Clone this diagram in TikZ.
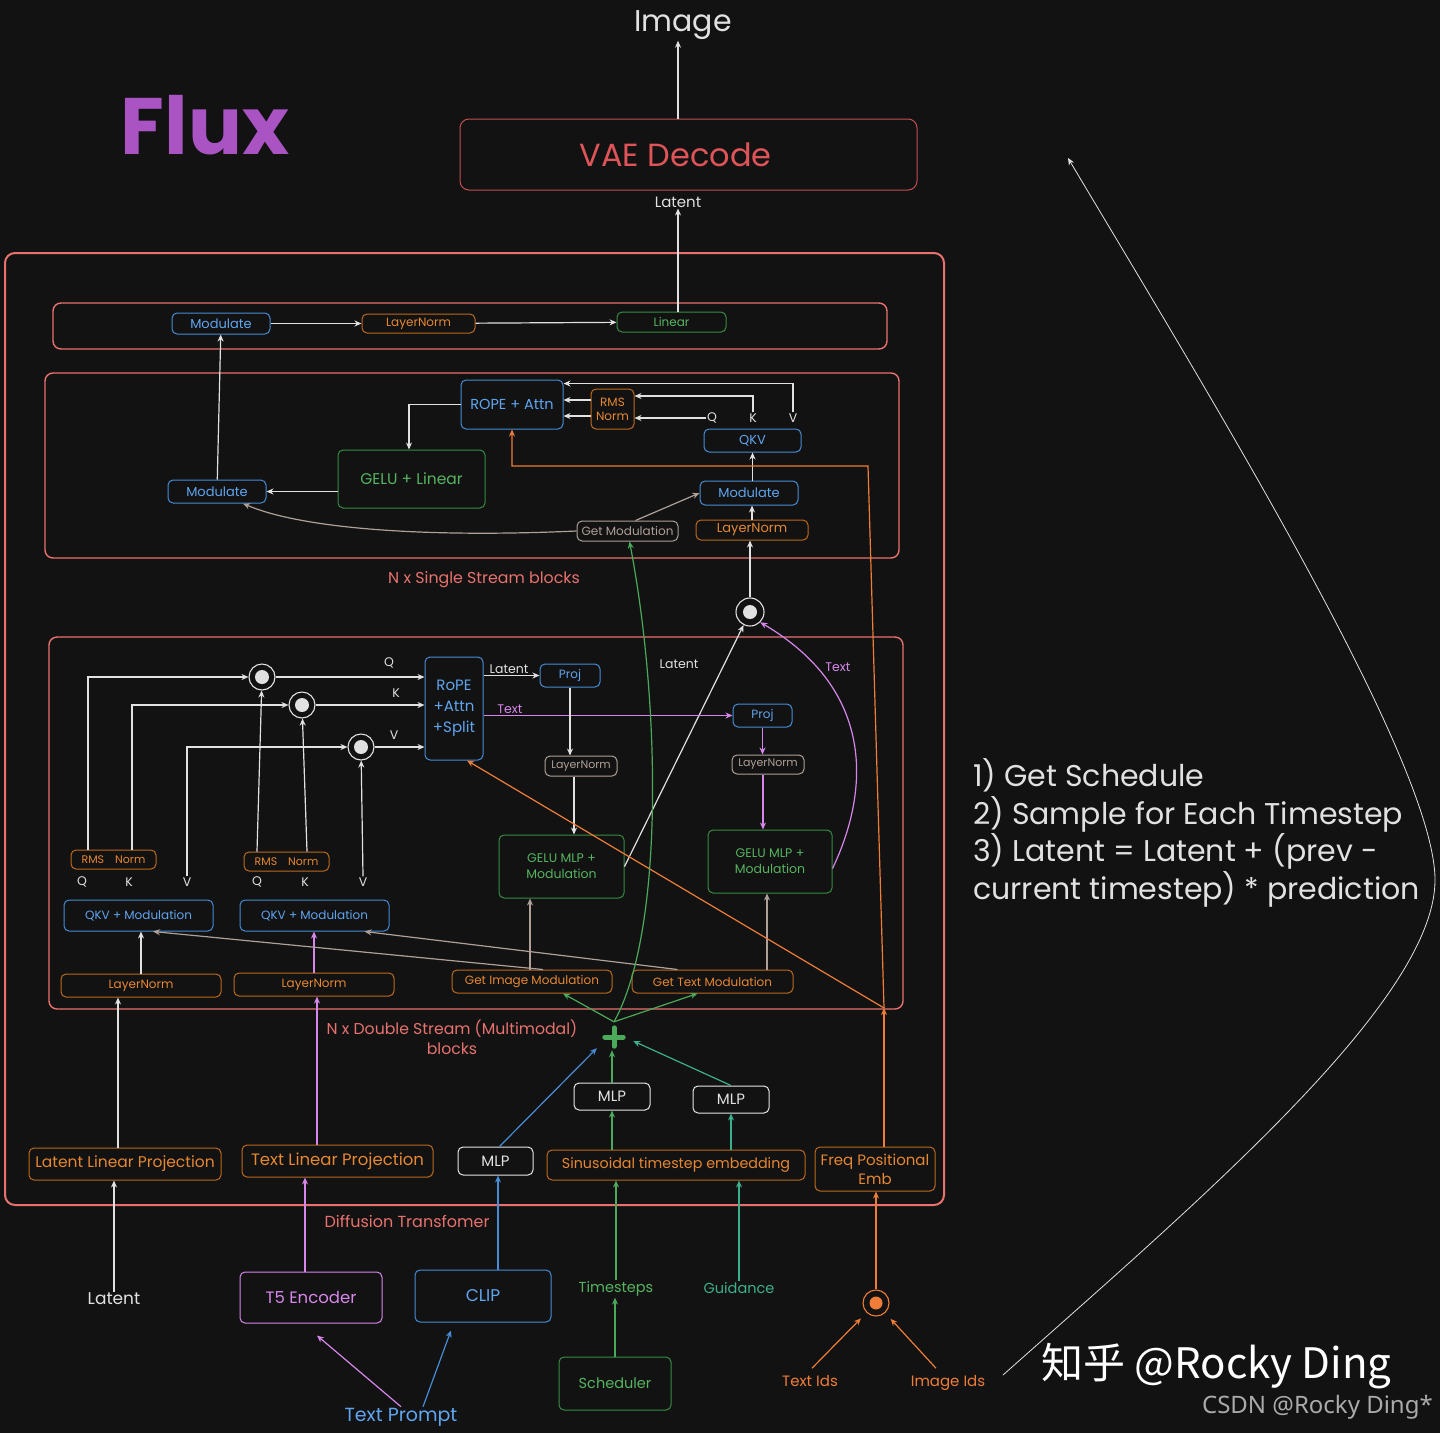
\documentclass[tikz,border=0pt]{standalone}
\usepackage{fontspec}
\setmainfont{Poppins}
\newfontfamily\cjkfont{Noto Sans CJK SC}
\newfontfamily\wmfont{Noto Sans}
\usetikzlibrary{arrows.meta}
\definecolor{bg}{RGB}{18,18,18}
\definecolor{salmon}{RGB}{232,114,110}
\definecolor{vaeedge}{RGB}{196,78,80}
\definecolor{vaetxt}{RGB}{222,84,88}
\definecolor{fluxpurple}{RGB}{170,84,196}
\definecolor{bluedge}{RGB}{70,140,215}
\definecolor{bluetxt}{RGB}{95,165,240}
\definecolor{orgedge}{RGB}{190,105,30}
\definecolor{orgtxt}{RGB}{230,135,50}
\definecolor{grnedge}{RGB}{55,140,65}
\definecolor{grntxt}{RGB}{85,180,95}
\definecolor{grnln}{RGB}{75,170,90}
\definecolor{pinkln}{RGB}{215,135,235}
\definecolor{whtln}{RGB}{225,225,225}
\definecolor{modgray}{RGB}{175,160,152}
\definecolor{tealln}{RGB}{60,175,140}
\definecolor{orgln}{RGB}{240,125,55}
\definecolor{wmgray}{RGB}{170,170,170}
\begin{document}
\begin{tikzpicture}[
    x=1pt, y=-1pt,
    box/.style={draw, rounded corners=5pt, line width=1pt, inner sep=1pt, align=center, font=\fontsize{12}{14}\selectfont},
    sz/.style 2 args={minimum width=#1pt, minimum height=#2pt},
    bbox/.style={box, draw=bluedge, text=bluetxt},
    obox/.style={box, draw=orgedge, text=orgtxt},
    gbox/.style={box, draw=grnedge, text=grntxt},
    pbox/.style={box, draw=pinkln, text=pinkln},
    wbox/.style={box, draw=whtln!85, text=whtln},
    mbox/.style={box, draw=modgray, text=modgray},
    blockframe/.style={draw=salmon, rounded corners=8pt, line width=1.4pt},
    lbl/.style={inner sep=1pt, text=whtln, font=\fontsize{12.5}{14}\selectfont},
    mult/.style={circle, draw=whtln, line width=1.1pt, minimum size=26pt, inner sep=0pt,
        path picture={\fill[whtln] (path picture bounding box.center) circle (7pt);}},
    conn/.style={line width=1.2pt, ->, >={Stealth[length=7pt,width=6pt]}},
    arrow/.style={conn, draw=whtln},
    parrow/.style={conn, draw=pinkln},
    barrow/.style={conn, draw=bluedge},
    garrow/.style={conn, draw=modgray},
    grarrow/.style={conn, draw=grnln},
    tarrow/.style={conn, draw=tealln},
    oarrow/.style={conn, draw=orgln}
]
\useasboundingbox (0,0) rectangle (1440,1433);
\fill [bg] (0,0) rectangle (1440,1433);

\node (flux) [lbl, text=fluxpurple, font=\fontsize{80}{90}\selectfont\bfseries] at (205,125) {Flux};
\node (image) [lbl, font=\fontsize{30}{34}\selectfont] at (683,25) {Image};
\node (vae) [box, draw=vaeedge, text=vaetxt, sz={457}{71}, rounded corners=9pt, font=\fontsize{32}{36}\selectfont] at (688.5,154.5) {\hspace*{-26pt}VAE Decode};
\node (latout) [lbl, font=\fontsize{15}{17}\selectfont] at (678,202) {Latent};

\draw [blockframe, line width=2pt, rounded corners=10pt] (5,253) rectangle (944,1205);
\node (ditlbl) [lbl, text=salmon, font=\fontsize{16}{18}\selectfont] at (407,1221) {Diffusion Transfomer};

\draw [blockframe] (53,303) rectangle (887,349);
\node (modF) [bbox, sz={98}{21}, font=\fontsize{13}{15}\selectfont] at (221,323.5) {Modulate};
\node (lnF) [obox, sz={113}{19}] at (418.5,323.5) {LayerNorm};
\node (linF) [gbox, sz={109}{20}] at (671.5,322) {Linear};

\draw [blockframe] (45,373) rectangle (899,558);
\node (ropeS) [bbox, sz={102}{49}, font=\fontsize{14.5}{16}\selectfont] at (512,404.5) {ROPE + Attn};
\node (rmsS) [obox, sz={43}{40}, font=\fontsize{12}{14}\selectfont] at (612.5,409) {RMS\\Norm};
\node (qS) [lbl] at (712,418) {Q};
\node (kS) [lbl] at (753,418) {K};
\node (vS) [lbl] at (793,418) {V};
\node (qkvS) [bbox, sz={97}{23}, font=\fontsize{13}{15}\selectfont] at (752.5,440.5) {QKV};
\node (modSR) [bbox, sz={98}{24}, font=\fontsize{13}{15}\selectfont] at (749,493) {Modulate};
\node (lnS) [obox, sz={112}{20}, font=\fontsize{13}{15}\selectfont] at (752,530) {LayerNorm};
\node (getmodS) [mbox, sz={101}{20}, font=\fontsize{12}{14}\selectfont] at (627.5,531) {Get Modulation};
\node (geluS) [gbox, sz={147}{58}, font=\fontsize{15.5}{17}\selectfont] at (411.5,479) {GELU + Linear};
\node (modSL) [bbox, sz={98}{23}, font=\fontsize{13}{15}\selectfont] at (217,491.5) {Modulate};
\node (singlelbl) [lbl, text=salmon, font=\fontsize{15.8}{18}\selectfont] at (484,580) {N x Single Stream blocks};
\node (mergeS) [mult, minimum size=28pt] at (750,612) {};

\draw [blockframe] (49,637) rectangle (903,1009);
\node (ropeD) [bbox, sz={58}{103}, font=\fontsize{15}{21}\selectfont] at (454,708.5) {RoPE\\+Attn\\+Split};
\node (c1) [mult] at (262,677) {};
\node (c2) [mult] at (302,705) {};
\node (c3) [mult] at (361,747) {};
\node (qD) [lbl] at (389,663) {Q};
\node (kD) [lbl] at (396,693) {K};
\node (vD) [lbl] at (394,735) {V};
\node (rmsA) [obox, sz={85}{19}, font=\fontsize{11}{13}\selectfont] at (113.5,859.5) {RMS\quad Norm};
\node (qA) [lbl] at (82,882) {Q};
\node (kA) [lbl] at (129,882) {K};
\node (vA) [lbl] at (187,882) {V};
\node (qkvA) [bbox, sz={149}{31}] at (138.5,915.5) {QKV + Modulation};
\node (rmsB) [obox, sz={85}{19}, font=\fontsize{11}{13}\selectfont] at (286.5,861.5) {RMS\quad Norm};
\node (qB) [lbl] at (257,882) {Q};
\node (kB) [lbl] at (305,882) {K};
\node (vB) [lbl] at (363,882) {V};
\node (qkvB) [bbox, sz={149}{31}] at (314.5,915.5) {QKV + Modulation};
\node (lnA) [obox, sz={160}{23}] at (141,985.5) {LayerNorm};
\node (lnB) [obox, sz={160}{23}] at (314,984.5) {LayerNorm};
\node (getImg) [obox, sz={160}{23}] at (532,981.5) {Get Image Modulation};
\node (getTxt) [obox, sz={161}{23}] at (712.5,981.5) {Get Text Modulation};
\node (projA) [bbox, sz={60}{23}] at (570,675.5) {Proj};
\node (projB) [bbox, sz={59}{23}] at (762.5,715.5) {Proj};
\node (lnGA) [mbox, sz={72}{20}, font=\fontsize{11}{13}\selectfont] at (581,766) {LayerNorm};
\node (lnGB) [mbox, sz={72}{19}, font=\fontsize{11}{13}\selectfont] at (768,764.5) {LayerNorm};
\node (mlpA) [gbox, sz={125}{63}, font=\fontsize{12.5}{16}\selectfont] at (561.5,866.5) {GELU MLP +\\Modulation};
\node (mlpB) [gbox, sz={124}{63}, font=\fontsize{12.5}{16}\selectfont] at (770,861.5) {GELU MLP +\\Modulation};
\node (latA) [lbl] at (509,669) {Latent};
\node (txtA) [lbl, text=pinkln] at (510,709) {Text};
\node (latB) [lbl] at (679,664) {Latent};
\node (txtB) [lbl, text=pinkln] at (838,667) {Text};
\node (doublelbl) [lbl, text=salmon, align=center, font=\fontsize{15.7}{20}\selectfont] at (452,1037) {N x Double Stream (Multimodal)\\blocks};
\coordinate (pe) at (884,1008);
\coordinate (pebend) at (868,466);

\node (plus) [inner sep=0pt, minimum size=18pt] at (614,1037) {};
\node (mlpC) [wbox, sz={75}{28}, font=\fontsize{15}{17}\selectfont] at (495.5,1161) {MLP};
\node (mlpT) [wbox, sz={76}{27}, font=\fontsize{15}{17}\selectfont] at (612,1096.5) {MLP};
\node (mlpG) [wbox, sz={76}{27}, font=\fontsize{15}{17}\selectfont] at (731,1099.5) {MLP};
\node (sin) [obox, sz={258}{30}, font=\fontsize{14.3}{16}\selectfont] at (676,1165) {Sinusoidal timestep embedding};
\node (latproj) [obox, sz={192}{32}, font=\fontsize{15.5}{17}\selectfont] at (125,1164) {Latent Linear Projection};
\node (txtproj) [obox, sz={191}{32}, font=\fontsize{16.5}{18}\selectfont] at (337.5,1161) {Text Linear Projection};
\node (freq) [obox, sz={120}{44}, font=\fontsize{15}{19}\selectfont] at (875,1169) {Freq Positional\\Emb};
\node (latin) [lbl, font=\fontsize{17}{19}\selectfont] at (114,1299) {Latent};
\node (t5) [pbox, sz={142}{51}, font=\fontsize{16.5}{18}\selectfont] at (311,1297.5) {T5 Encoder};
\node (clip) [bbox, sz={136}{52}, font=\fontsize{17}{19}\selectfont] at (483,1296) {CLIP};
\node (prompt) [lbl, text=bluetxt, font=\fontsize{19}{21}\selectfont] at (401,1417) {Text Prompt};
\node (timesteps) [lbl, text=grntxt, font=\fontsize{14.5}{16}\selectfont] at (616,1289) {Timesteps};
\node (guidance) [lbl, text=tealln, font=\fontsize{14.5}{16}\selectfont] at (739,1288) {Guidance};
\node (sched) [gbox, sz={112}{53}, font=\fontsize{14.5}{16}\selectfont] at (615,1383.5) {Scheduler};
\node (pid) [circle, draw=orgln, line width=1.1pt, minimum size=26pt, inner sep=0pt,
    path picture={\fill[orgln] (path picture bounding box.center) circle (6.5pt);}] at (876,1303) {};
\node (textids) [lbl, text=orgln, font=\fontsize{15}{17}\selectfont] at (810,1381) {Text Ids};
\node (imageids) [lbl, text=orgln, font=\fontsize{15}{17}\selectfont] at (948,1383) {Image Ids};

\node (steps) [lbl, anchor=west, align=left, font=\fontsize{30}{37.5}\selectfont] at (972,833) {1) Get Schedule\\2) Sample for Each Timestep\\3) Latent = Latent + (prev -\\current timestep) * prediction};
\node (zhihu) [lbl, anchor=west, text=white, font=\cjkfont\fontsize{42}{46}\selectfont] at (1040,1366) {知乎 @Rocky Ding};
\node (csdn) [lbl, anchor=east, text=wmgray, font=\wmfont\fontsize{24}{26}\selectfont] at (1434,1407) {CSDN @Rocky Ding*};
\coordinate (loopstart) at (1003,1375);
\coordinate (loopturn) at (1435,880);
\coordinate (loopend) at (1068,158);

\draw [arrow] (modF) -- (lnF);
\draw [arrow] (lnF) -- (linF);
\draw [arrow] (linF.north -| latout) -- (latout);
\draw [arrow] ([xshift=-5pt]vae.north -| image) -- ([xshift=-5pt]image.south);

\draw [arrow] (modSL) -- (modF);
\draw [arrow] (geluS.west |- modSL) -- (modSL);
\draw [arrow] (ropeS.west) -| ([xshift=-2.5pt]geluS.north);
\draw [arrow] (vS.north) |- ([yshift=-4pt]ropeS.north east);
\draw [arrow] (kS.north) |- ([yshift=13pt]rmsS.east);
\draw [arrow] (qS.west) -- (qS.west -| rmsS.east);
\draw [arrow] ([yshift=9pt]rmsS.west) -- ([yshift=9pt]rmsS.west -| ropeS.east);
\draw [arrow] ([yshift=-7pt]rmsS.west) -- ([yshift=-7pt]rmsS.west -| ropeS.east);
\draw [arrow] (lnS.north) -- (lnS.north |- modSR.south);
\draw [arrow] (modSR.north -| qkvS) -- (qkvS.south);
\draw [garrow] ([xshift=8pt]getmodS.north) -- (modSR.west);
\draw [garrow] (getmodS.west) .. controls (420,538) and (300,528) .. ([xshift=26pt]modSL.south);
\draw [oarrow] (pe) -- (pebend) -| (ropeS.south);
\draw [arrow] (mergeS) -- (mergeS |- lnS.south);
\draw [arrow] (mlpA.east) -- (mergeS);
\draw [parrow] ([yshift=-7pt]mlpB.east) .. controls (870,790) and (875,690) .. (mergeS.south east);

\draw [arrow] ([xshift=-25.5pt]rmsA.north) |- (c1);
\draw [arrow] ([xshift=18.5pt]rmsA.north) |- (c2);
\draw [arrow] (vA.north) |- (c3);
\draw [arrow] ([xshift=-29.5pt]rmsB.north) -- (c1);
\draw [arrow] ([xshift=20.5pt]rmsB.north) -- (c2);
\draw [arrow] (vB.north) -- (c3);
\draw [arrow] (c1) -- (c1 -| ropeD.west);
\draw [arrow] (c2) -- (c2 -| ropeD.west);
\draw [arrow] (c3) -- (c3 -| ropeD.west);
\draw [arrow] (lnA.north) -- (lnA.north |- qkvA.south);
\draw [parrow] (lnB.north) -- (lnB.north |- qkvB.south);
\draw [arrow] ([xshift=-7pt]latproj.north) -- ([xshift=-7pt]latproj.north |- lnA.south);
\draw [parrow] ([xshift=-20.5pt]txtproj.north) -- ([xshift=-20.5pt]txtproj.north |- lnB.south);
\draw [garrow] ([xshift=11pt]getImg.north) -- ([xshift=14.5pt]qkvA.south);
\draw [garrow] ([xshift=-35pt]getTxt.north) -- ([xshift=50pt]qkvB.south);
\draw [garrow] ([xshift=-2pt]getImg.north) -- ([xshift=-2pt]getImg.north |- mlpA.south);
\draw [garrow] ([xshift=54.5pt]getTxt.north) -- ([xshift=54.5pt]getTxt.north |- mlpB.south);
\draw [arrow] (ropeD.east |- projA) -- (projA);
\draw [parrow] (ropeD.east |- projB) -- (projB);
\draw [arrow] (projA.south) -- (projA.south |- lnGA.north);
\draw [arrow] ([xshift=-7pt]lnGA.south) -- ([xshift=-7pt]lnGA.south |- mlpA.north);
\draw [parrow] (projB.south) -- (projB.south |- lnGB.north);
\draw [parrow] ([xshift=-5pt]lnGB.south) -- ([xshift=-5pt]lnGB.south |- mlpB.north);
\draw [oarrow] (pe) -- ([xshift=13pt]ropeD.south);

\draw [grnln, line width=5pt, line cap=round] (plus.north) -- (plus.south) (plus.west) -- (plus.east);
\draw [arrow] (latin) -- (latin |- latproj.south);
\draw [parrow] ([xshift=-6pt]t5.north) -- ([xshift=-6pt]t5.north |- txtproj.south);
\draw [barrow] ([xshift=15pt]clip.north) -- ([xshift=15pt]clip.north |- mlpC.south);
\draw [barrow] ([xshift=4pt]mlpC.north) -- ([shift={(-8pt,-2pt)}]plus.south west);
\draw [grarrow, shorten >=4pt] (mlpT.north) -- (mlpT.north |- plus.south);
\draw [tarrow] (mlpG.north) -- ([shift={(10pt,-4pt)}]plus.east);
\draw [grarrow] (mlpT.south |- sin.north) -- (mlpT.south);
\draw [tarrow] (mlpG.south |- sin.north) -- (mlpG.south);
\draw [grarrow] (timesteps) -- (timesteps |- sin.south);
\draw [tarrow] (guidance) -- (guidance |- sin.south);
\draw [grarrow] (sched) -- (sched |- timesteps.south);
\draw [grarrow] ([yshift=6pt]plus.north) -- ([xshift=31pt]getImg.south);
\draw [grarrow] ([yshift=6pt]plus.north) -- ([xshift=-15pt]getTxt.south);
\draw [grarrow] ([yshift=6pt]plus.north) .. controls (665,930) and (660,700) .. ([xshift=2pt]getmodS.south);
\draw [oarrow] (freq.north -| pe) -- (pe);
\draw [oarrow] (pid) -- (pid |- freq.south);
\draw [oarrow, shorten >=8pt] ([shift={(2pt,6pt)}]textids.north) -- (pid);
\draw [oarrow, shorten >=8pt] ([shift={(-12pt,6pt)}]imageids.north) -- (pid);
\draw [parrow] (prompt.north) -- ([shift={(6pt,-12pt)}]t5.south);
\draw [barrow] ([xshift=22pt]prompt.north) -- ([shift={(-32pt,-8pt)}]clip.south);
\draw [arrow, line width=0.8pt] (loopstart) .. controls (1200,1200) and (1435,1000) .. (loopturn) .. controls (1435,760) and (1200,380) .. (loopend);

\end{tikzpicture}
\end{document}
